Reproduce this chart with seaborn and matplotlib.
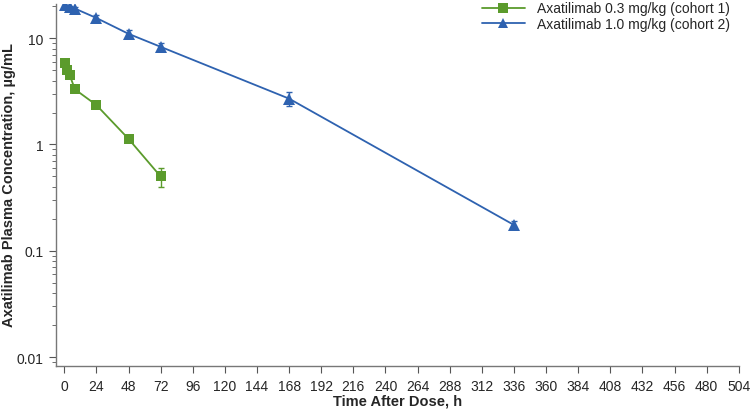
import numpy as np
import pandas as pd
import matplotlib
matplotlib.use("Agg")
import matplotlib.pyplot as plt
import seaborn as sns
from matplotlib.ticker import LogLocator, NullFormatter

# Mean (SD) concentrations
time_c1 = [0.5, 2, 4, 8, 24, 48, 72]
conc_c1 = [5.8, 5.0, 4.5, 3.3, 2.35, 1.13, 0.50]
sd_c1 = [0.3, 0.2, 0.2, 0.15, 0.15, 0.08, 0.10]

time_c2 = [0.5, 4, 8, 24, 48, 72, 168, 336]
conc_c2 = [20.5, 19.5, 19.0, 15.5, 11.0, 8.3, 2.7, 0.175]
sd_c2 = [1.5, 0.8, 0.6, 1.2, 1.0, 0.7, 0.4, 0.015]

labels = ["Axatilimab 0.3 mg/kg (cohort 1)", "Axatilimab 1.0 mg/kg (cohort 2)"]
colors = ["#5b9b2c", "#2e62b0"]
x_ticks = list(range(0, 505, 24))
y_ticks = [0.01, 0.1, 1, 10]
y_tick_labels = ["0.01", "0.1", "1", "10"]

df = pd.concat([
    pd.DataFrame({"time": time_c1, "conc": conc_c1, "sd": sd_c1, "group": labels[0]}),
    pd.DataFrame({"time": time_c2, "conc": conc_c2, "sd": sd_c2, "group": labels[1]}),
], ignore_index=True)

sns.set_style("ticks")
plt.rcParams["font.family"] = ["Liberation Sans", "DejaVu Sans"]

fig = plt.figure(figsize=(7.5, 4.14), dpi=100)
ax = fig.add_axes([0.075, 0.113, 0.91, 0.875])

palette = dict(zip(labels, colors))
for grp, sub in df.groupby("group", sort=False):
    ax.errorbar(sub["time"], sub["conc"], yerr=sub["sd"], fmt="none",
                ecolor=palette[grp], elinewidth=1, capsize=2.5, capthick=1, zorder=2)

sns.lineplot(data=df, x="time", y="conc", hue="group", style="group",
             palette=palette, markers={labels[0]: "s", labels[1]: "^"},
             dashes=False, markersize=7, markeredgewidth=0, linewidth=1.3,
             ax=ax, zorder=3)
# triangles read a little larger than squares in the reference
for line in ax.get_lines():
    if line.get_marker() == "^":
        line.set_markersize(8.5)

ax.set_yscale("log")
ax.set_xlim(-6, 504)
ax.set_ylim(0.0082, 21)
ax.set_xticks(x_ticks)
ax.set_xticklabels([str(t) for t in x_ticks], fontsize=10)
ax.set_yticks(y_ticks)
ax.set_yticklabels(y_tick_labels, fontsize=10)
ax.yaxis.set_minor_locator(LogLocator(base=10, subs=np.arange(2, 10)))
ax.yaxis.set_minor_formatter(NullFormatter())
ax.tick_params(axis="both", which="major", length=5, width=0.8, color="#555555", pad=4)
ax.tick_params(axis="y", which="minor", length=3, width=0.6, color="#555555")

for side in ["top", "right"]:
    ax.spines[side].set_visible(False)
for side in ["left", "bottom"]:
    ax.spines[side].set_color("#777777")
    ax.spines[side].set_linewidth(1)

ax.set_xlabel("Time After Dose, h", fontsize=10.5, fontweight="bold")
ax.xaxis.set_label_coords(0.5, -0.076)
ax.set_ylabel("Axatilimab Plasma Concentration, µg/mL", fontsize=10.5, fontweight="bold")
ax.yaxis.set_label_coords(-0.059, 0.503)

leg = ax.legend(loc="upper right", bbox_to_anchor=(1.0, 1.03), frameon=False,
                fontsize=10, handlelength=3.1, handletextpad=0.9,
                borderaxespad=0.2, labelspacing=0.12)
for h in leg.legend_handles:
    h.set_markersize(7)

fig.savefig("out.png", dpi=100)
